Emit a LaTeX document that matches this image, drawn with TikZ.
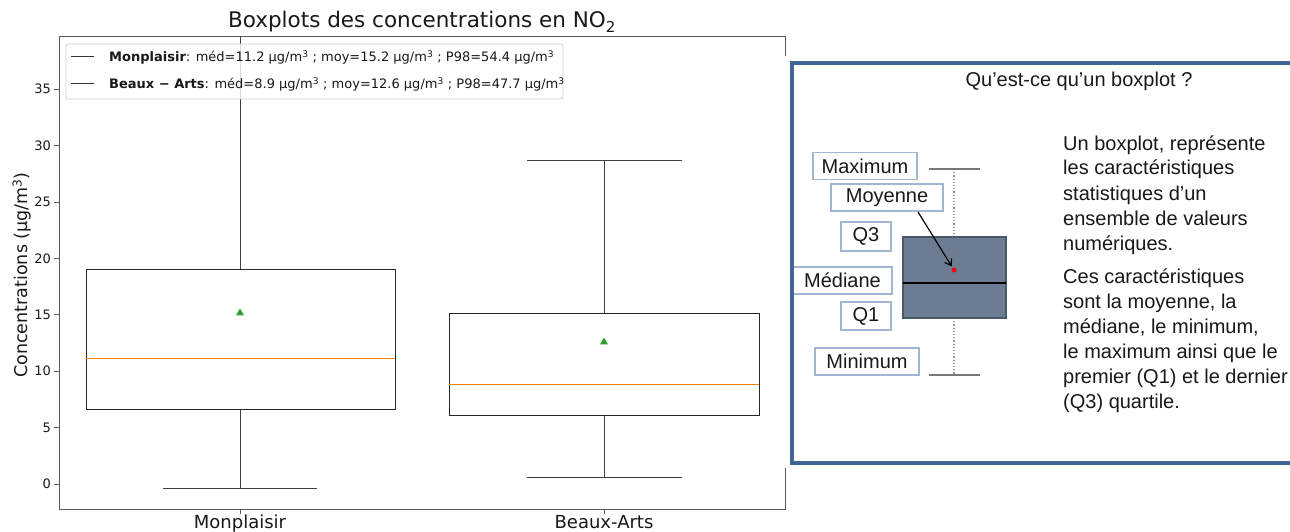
\documentclass[tikz,border=0pt]{standalone}
\usepackage{fontspec}
\usetikzlibrary{arrows.meta,shapes.geometric}
\newfontfamily\dv{DejaVu Sans}
\newfontfamily\ar{Liberation Sans}
\newcommand\fsz[1]{\fontsize{#1}{#1}\selectfont}
\definecolor{mplorange}{HTML}{FF7F0E}
\definecolor{mplgreen}{HTML}{2CA02C}
\definecolor{spinec}{RGB}{90,90,90}
\definecolor{framec}{RGB}{64,101,150}
\definecolor{lblc}{RGB}{160,182,210}
\definecolor{boxfill}{RGB}{108,125,147}
\definecolor{boxedge}{RGB}{75,88,105}
\definecolor{capc}{RGB}{120,120,120}
\definecolor{dotc}{RGB}{150,150,150}
\definecolor{txtc}{RGB}{25,25,25}
\tikzset{
  spine/.style={draw=spinec,line width=1},
  boxe/.style={draw=black!85,line width=1},
  medline/.style={draw=mplorange,line width=1},
  whisk/.style={draw=black!75,line width=1},
  meanmk/.style={regular polygon,regular polygon sides=3,fill=mplgreen,inner sep=0,minimum size=9},
  ticklbl/.style={font=\dv\fsz{13},text=txtc,inner sep=0},
  xlbl/.style={font=\dv\fsz{18},text=txtc,inner sep=0,anchor=base},
  leglbl/.style={font=\dv\fsz{13},text=txtc,inner sep=0,anchor=base west},
  lbl/.style={draw=lblc,line width=1.3,fill=white,font=\ar\fsz{20},text=txtc,inner sep=0,minimum height=27},
  ptxt/.style={font=\ar\fsz{20},text=txtc,inner sep=0,anchor=base west},
}
\begin{document}
\begin{tikzpicture}[x=1pt,y=-1pt]
\useasboundingbox (0,0) rectangle (1290,532);
\clip (0,0) rectangle (1290,532);
\fill[white] (0,0) rectangle (1290,532);

% ---------- left plot ----------
\node[font=\dv\fsz{21.5},text=txtc,inner sep=0,anchor=base] (title) at (422,28) {Boxplots des concentrations en NO\textsubscript{2}};

% Monplaisir
\draw[whisk] (240,269) -- (240,37);
\draw[whisk] (240,409) -- (240,488);
\draw[whisk] (163,488) -- (317,488);
\draw[boxe] (86,269) rectangle (395,409);
\draw[medline] (86,358) -- (395,358);
\node[meanmk] (mean1) at (240,313) {};

% Beaux-Arts
\draw[whisk] (604,313) -- (604,160);
\draw[whisk] (527,160) -- (682,160);
\draw[whisk] (604,415) -- (604,477);
\draw[whisk] (527,477) -- (682,477);
\draw[boxe] (449,313) rectangle (759,415);
\draw[medline] (449,384) -- (759,384);
\node[meanmk] (mean2) at (604,342) {};

% axes
\draw[spine] (59,37) rectangle (785,509);
\foreach \v in {0,5,...,35} {
  \draw[spine] (54,{484-11.28*\v}) -- (59,{484-11.28*\v});
  \node[ticklbl,anchor=east] (yt\v) at (51,{484-11.28*\v}) {\v};
}
\draw[spine] (240,509) -- (240,514);
\draw[spine] (604,509) -- (604,514);
\node[xlbl] (xt1) at (240,528) {Monplaisir};
\node[xlbl] (xt2) at (604,528) {Beaux-Arts};
\node[font=\dv\fsz{17.5},text=txtc,inner sep=0,rotate=90] (ylab) at (22,275) {Concentrations (µg/m\textsuperscript{3})};

% legend
\draw[fill=white,fill opacity=0.8,draw=black!20,line width=0.8,rounded corners=2] (66,44) rectangle (563,99);
\draw[line width=1,black!80] (71,57) -- (94,57);
\draw[line width=1,black!80] (71,84) -- (94,84);
\node[leglbl] (leg1) at (109,62) {{\bfseries Monplaisir}: méd=11.2 µg/m\textsuperscript{3} ; moy=15.2 µg/m\textsuperscript{3} ; P98=54.4 µg/m\textsuperscript{3}};
\node[leglbl] (leg2) at (109,89) {{\bfseries Beaux − Arts}: méd=8.9 µg/m\textsuperscript{3} ; moy=12.6 µg/m\textsuperscript{3} ; P98=47.7 µg/m\textsuperscript{3}};

% ---------- right panel ----------
\fill[white] (779,56) rectangle (1300,468);
\node[font=\ar\fsz{20},text=txtc,inner sep=0,anchor=base] (ptitle) at (1079,87) {Qu’est-ce qu’un boxplot ?};

% schematic boxplot
\draw[draw=dotc,line width=1.2,dotted] (954,169) -- (954,237);
\draw[draw=dotc,line width=1.2,dotted] (954,318) -- (954,375);
\draw[draw=capc,line width=1.4] (929,169) -- (980,169);
\draw[draw=capc,line width=1.4] (929,375) -- (980,375);
\draw[fill=boxfill,draw=boxedge,line width=1.2] (903,237) rectangle (1006,318);
\draw[line width=2.4,black] (903,283) -- (1006,283);
\node[circle,fill=red,inner sep=0,minimum size=5] (dot) at (954,270) {};

% labels
\node[lbl,minimum width=104] (max) at (865,166) {Maximum};
\node[lbl,minimum width=112] (moy) at (887,197.5) {Moyenne};
\node[lbl,minimum width=50,minimum height=29] (q3) at (866,236.5) {Q3};
\node[lbl,minimum width=99] (med) at (842.5,280.5) {Médiane};
\node[lbl,minimum width=50,minimum height=28] (q1) at (866,316) {Q1};
\node[lbl,minimum width=104] (min) at (867,361.5) {Minimum};

\coordinate (arrs) at (918,212);
\draw[line width=1.2,black,-{Straight Barb[length=6pt,width=8pt]},shorten >=1.5pt] (arrs) -- (dot);

% explanatory text
\foreach \yy/\t [count=\i] in {150/{Un boxplot, représente},175/{les caractéristiques},200/{statistiques d’un},225/{ensemble de valeurs},250/{numériques.},283/{Ces caractéristiques},308/{sont la moyenne, la},333/{médiane, le minimum,},358/{le maximum ainsi que le},383/{premier (Q1) et le dernier},408/{(Q3) quartile.}} {
  \node[ptxt] (ln\i) at (1063,\yy) {\t};
}

% frame
\draw[draw=framec,line width=4] (1300,63) -- (792,63) -- (792,463) -- (1300,463);
\end{tikzpicture}
\end{document}
